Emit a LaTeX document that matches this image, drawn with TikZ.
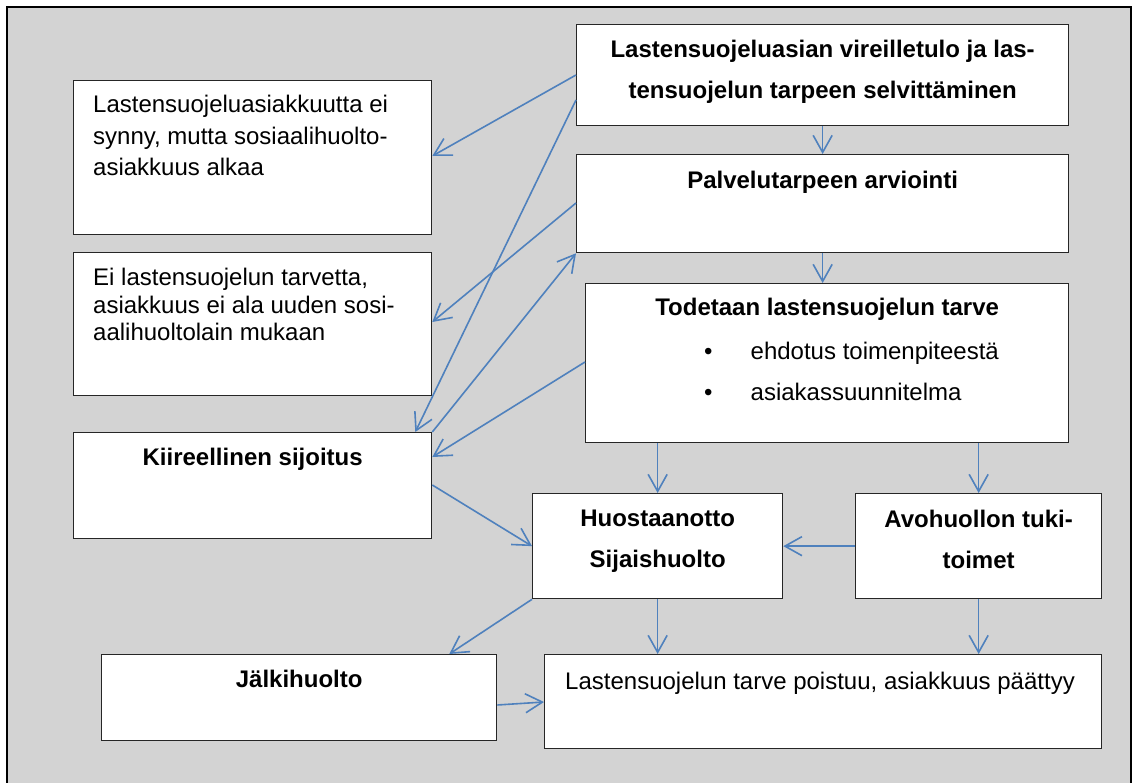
\documentclass[tikz,border=0pt]{standalone}
\usepackage{fontspec}
\setmainfont{Liberation Sans}
\usepackage{tikz}
\usetikzlibrary{arrows.meta}
\usetikzlibrary{positioning}
\usepackage{xcolor}
\definecolor{sininen}{RGB}{79,129,189}
\definecolor{tausta}{RGB}{211,211,211}

\begin{document}
\begin{tikzpicture}[x=1pt,y=-1pt,
  laatikko/.style={draw=black!85,fill=white,line width=1.3pt,anchor=north west,inner sep=0pt},
  teksti/.style={inner sep=0pt,font=\fontsize{24}{41}\selectfont},
  lihava/.style={inner sep=0pt,anchor=north,align=center,font=\fontsize{24}{41}\selectfont\bfseries},
  nuoli/.style={draw=sininen,line width=1.6pt,-{Straight Barb[length=17pt,width=19pt]}}]
\useasboundingbox (0,0) rectangle (1132,783);
\fill[tausta] (7,7) rectangle (1132,783);
\draw[line width=1.5pt] (7,783)--(7,7)--(1131,7)--(1131,783);
\node[laatikko,minimum width=492pt,minimum height=101pt] (vireille) at (576,24) {};
\node[laatikko,minimum width=492pt,minimum height=98pt] (palvelu) at (576,154) {};
\node[laatikko,minimum width=483pt,minimum height=159pt] (todetaan) at (585,283) {};
\node[laatikko,minimum width=358pt,minimum height=154pt] (eiSynny) at (73,80) {};
\node[laatikko,minimum width=358pt,minimum height=143pt] (eiTarvetta) at (73,252) {};
\node[laatikko,minimum width=358pt,minimum height=106pt] (kiire) at (73,432) {};
\node[laatikko,minimum width=250pt,minimum height=105pt] (huosta) at (532,493) {};
\node[laatikko,minimum width=246pt,minimum height=105pt] (avo) at (855,493) {};
\node[laatikko,minimum width=395pt,minimum height=86pt] (jalki) at (101,654) {};
\node[laatikko,minimum width=557pt,minimum height=94pt] (loppu) at (544,654) {};
\node[lihava] (vireilleT) at ([yshift=-16pt]vireille.north) {Lastensuojeluasian vireilletulo ja las-\\tensuojelun tarpeen selvittäminen};
\node[lihava] (palveluT) at ([yshift=-17pt]palvelu.north) {Palvelutarpeen arviointi};
\node[lihava] (todetaanT) at ([yshift=-15pt]todetaan.north) {Todetaan lastensuojelun tarve};
\node[teksti,anchor=north west,align=left] (todetaanL) at (704,342) {\makebox[46.5pt][l]{•}ehdotus toimenpiteestä\\\makebox[46.5pt][l]{•}asiakassuunnitelma};
\node[teksti,anchor=north west,align=left,font=\fontsize{24}{31.5}\selectfont] (eiSynnyT) at (93,95) {Lastensuojeluasiakkuutta ei\\synny, mutta sosiaalihuolto-\\asiakkuus alkaa};
\node[teksti,anchor=north west,align=left,font=\fontsize{24}{27.5}\selectfont] (eiTarvettaT) at (93,268) {Ei lastensuojelun tarvetta,\\asiakkuus ei ala uuden sosi-\\aalihuoltolain mukaan};
\node[lihava] (kiireT) at ([yshift=-16pt]kiire.north) {Kiireellinen sijoitus};
\node[lihava] (huostaT) at ([yshift=-17pt]huosta.north) {Huostaanotto\\Sijaishuolto};
\node[lihava] (avoT) at ([yshift=-17pt]avo.north) {Avohuollon tuki-\\toimet};
\node[lihava] (jalkiT) at ([yshift=-16pt]jalki.north) {Jälkihuolto};
\node[teksti,anchor=north west] (loppuT) at ([xshift=21pt,yshift=-18pt]loppu.north west) {Lastensuojelun tarve poistuu, asiakkuus päättyy};
\draw[nuoli] ([yshift=-51pt]vireille.north west) -- ([yshift=-76pt]eiSynny.north east);
\draw[nuoli] ([yshift=-76pt]vireille.north west) -- ([xshift=-17pt]kiire.north east);
\draw[nuoli] (vireille.south) -- (palvelu.north);
\draw[nuoli] ([yshift=-49pt]palvelu.north west) -- ([yshift=-70pt]eiTarvetta.north east);
\draw[nuoli] (kiire.north east) -- (palvelu.south west);
\draw[nuoli] ([yshift=-79pt]todetaan.north west) -- ([yshift=-25pt]kiire.north east);
\draw[nuoli] (palvelu.south) -- (palvelu.south |- todetaan.north);
\draw[nuoli] (huosta.north |- todetaan.south) -- (huosta.north);
\draw[nuoli] (avo.north |- todetaan.south) -- (avo.north);
\draw[nuoli] ([yshift=-53pt]kiire.north east) -- (huosta.west);
\draw[nuoli] (avo.west) -- (huosta.east);
\draw[nuoli] (huosta.south west) -- ([xshift=-48pt]jalki.north east);
\draw[nuoli] (huosta.south) -- (huosta.south |- loppu.north);
\draw[nuoli] (avo.south) -- (avo.south |- loppu.north);
\draw[nuoli] ([yshift=-51pt]jalki.north east) -- ([yshift=-48pt]loppu.north west);
\end{tikzpicture}
\end{document}
